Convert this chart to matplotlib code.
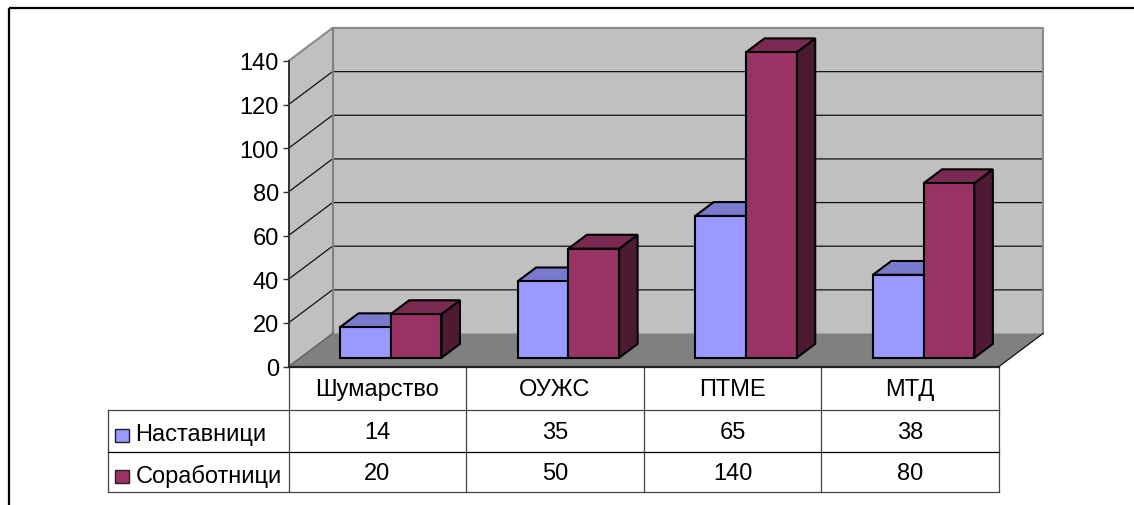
import matplotlib
matplotlib.use('Agg')
import matplotlib.pyplot as plt
from matplotlib.patches import Polygon, Rectangle

plt.rcParams['font.family'] = ['Liberation Sans', 'DejaVu Sans']

# Data
categories = ['Шумарство', 'ОУЖС', 'ПТМЕ', 'МТД']
series_names = ['Наставници', 'Соработници']
nastavnici = [14, 35, 65, 38]
sorabotnici = [20, 50, 140, 80]
y_ticks = [0, 20, 40, 60, 80, 100, 120, 140]

# Colours: front, top, side
blue = ('#9999FF', '#7A7ACC', '#4D4D80')
wine = ('#993366', '#7A2952', '#4D1A33')

W, H = 1134, 506
fig = plt.figure(figsize=(W / 100, H / 100), dpi=100, facecolor='white')

# Pixel layer for the outer frame and the table
bg = fig.add_axes([0, 0, 1, 1])
bg.set_xlim(0, W)
bg.set_ylim(H, 0)
bg.axis('off')

# Chart axes: front plane of the 3D box
left, right, base, top = 288.5, 999.0, 367.5, 62.0
ax = fig.add_axes([left / W, 1 - base / H, (right - left) / W, (base - top) / H])
ax.set_xlim(0, len(categories))
ax.set_ylim(0, 140)
ax.patch.set_visible(False)
for s in ['top', 'right', 'bottom']:
    ax.spines[s].set_visible(False)
ax.spines['left'].set_color('#333333')
ax.spines['left'].set_linewidth(1.4)
ax.set_xticks([])
ax.set_yticks(y_ticks)
ax.tick_params(axis='y', length=4, width=1, color='#333333', labelsize=17, pad=3, labelcolor='black')

# Depth of the box in data units
dx = 44.0 / ((right - left) / len(categories))
dy = 33.0 / ((base - top) / 140)


def proj(x, y, z):
    # z = 0 front of the box, z = 1 back wall
    return (x + z * dx, y + z * dy)


n = len(categories)
# Walls and floor
ax.add_patch(Polygon([proj(0, 0, 0), proj(0, 140, 0), proj(0, 140, 1), proj(0, 0, 1)],
                     fc='#C0C0C0', ec='none', clip_on=False, zorder=1))
ax.add_patch(Polygon([proj(0, 0, 1), proj(0, 140, 1), proj(n, 140, 1), proj(n, 0, 1)],
                     fc='#C0C0C0', ec='none', clip_on=False, zorder=1))
for v in y_ticks[1:-1]:
    pts = [proj(0, v, 0), proj(0, v, 1), proj(n, v, 1)]
    ax.plot(*zip(*pts), color='#111111', lw=0.9, clip_on=False, zorder=2)
edge = [proj(0, 140, 0), proj(0, 140, 1), proj(n, 140, 1), proj(n, 0, 1)]
ax.plot(*zip(*edge), color='#8A8A8A', lw=1.5, clip_on=False, zorder=2)
ax.plot(*zip(proj(0, 140, 1), proj(0, 0, 1)), color='#808080', lw=1.5, clip_on=False, zorder=2)
ax.add_patch(Polygon([proj(0, 0, 0), proj(n, 0, 0), proj(n, 0, 1), proj(0, 0, 1)],
                     fc='#808080', ec='none', clip_on=False, zorder=3))
ax.plot(*zip(proj(0, 0, 0), proj(0, 0, 1)), color='#555555', lw=0.8, clip_on=False, zorder=3)
ax.plot(*zip(proj(n, 0, 0), proj(n, 0, 1)), color='#111111', lw=0.9, clip_on=False, zorder=3)
ax.plot([0, n], [0, 0], color='#222222', lw=1.6, clip_on=False, zorder=4)

# Bars
bar_w = 1 / 3.5
z0, z1 = 0.265, 0.685


def draw_bar(x, v, colors, order):
    a, b = x, x + bar_w
    kw = dict(ec='black', lw=1.5, joinstyle='miter', clip_on=False, zorder=order)
    ax.add_patch(Polygon([proj(b, 0, z0), proj(b, v, z0), proj(b, v, z1), proj(b, 0, z1)], fc=colors[2], **kw))
    ax.add_patch(Polygon([proj(a, v, z0), proj(b, v, z0), proj(b, v, z1), proj(a, v, z1)], fc=colors[1], **kw))
    ax.add_patch(Polygon([proj(a, 0, z0), proj(b, 0, z0), proj(b, v, z0), proj(a, v, z0)], fc=colors[0], **kw))


for i in range(n):
    x0 = i + 0.75 * bar_w + 0.01
    draw_bar(x0, nastavnici[i], blue, 5 + i * 2)
    draw_bar(x0 + bar_w, sorabotnici[i], wine, 6 + i * 2)

# Outer frame (only top and left are in the picture)
bg.plot([9, W], [9, 9], color='black', lw=1.6, solid_capstyle='butt')
bg.plot([9, 9], [9, H], color='black', lw=1.6, solid_capstyle='butt')

# Data table
col_x = [left + i * (right - left) / n for i in range(n + 1)]
row_y = [base, 410.5, 453.0, 492.5]
tbl_left = 107.5
line = '#444444'
for x in col_x:
    bg.plot([x, x], [row_y[0], row_y[3]], color=line, lw=0.9)
bg.plot([tbl_left, tbl_left], [row_y[1], row_y[3]], color=line, lw=0.9)
bg.plot([tbl_left, right], [row_y[1], row_y[1]], color=line, lw=0.9)
bg.plot([tbl_left, right], [row_y[2], row_y[2]], color='black', lw=0.9)
bg.plot([tbl_left, right], [row_y[3], row_y[3]], color=line, lw=0.9)

font = 17
for i in range(n):
    xc = (col_x[i] + col_x[i + 1]) / 2
    bg.text(xc, 390, categories[i], ha='center', va='center', fontsize=font)
    bg.text(xc, 433, str(nastavnici[i]), ha='center', va='center', fontsize=font)
    bg.text(xc, 474, str(sorabotnici[i]), ha='center', va='center', fontsize=font)

# Legend keys in the table
for name, colors, yc in [(series_names[0], blue, 436), (series_names[1], wine, 477)]:
    bg.add_patch(Rectangle((115, yc - 6.5), 13.5, 13.5, fc=colors[0], ec='#222222', lw=1))
    bg.text(135.5, yc - 1, name, ha='left', va='center', fontsize=font)

fig.savefig('out.png', dpi=100, facecolor='white')
